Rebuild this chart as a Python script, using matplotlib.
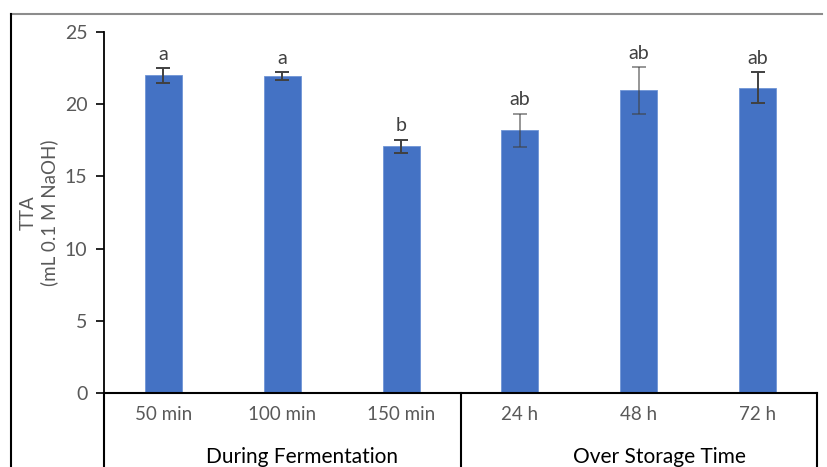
import numpy as np
import matplotlib
matplotlib.use("Agg")
import matplotlib.pyplot as plt
from matplotlib.lines import Line2D
import matplotlib.transforms as mtransforms

# data
categories = ["50 min", "100 min", "150 min", "24 h", "48 h", "72 h"]
groups = ["During Fermentation", "Over Storage Time"]
tta = [22.0, 21.95, 17.1, 18.2, 20.95, 21.15]
tta_err = [0.5, 0.25, 0.45, 1.15, 1.6, 1.05]
letters = ["a", "a", "b", "ab", "ab", "ab"]
err_alpha = [1, 1, 1, 0.55, 0.55, 1]

plt.rcParams['font.family'] = ['Lato', 'DejaVu Sans']

W, H, dpi = 827, 467, 100
fig = plt.figure(figsize=(W / dpi, H / dpi), dpi=dpi)

# outer chart border (partially visible)
fig.add_artist(Line2D([11 / W, 822 / W], [1 - 14 / H, 1 - 14 / H], transform=fig.transFigure,
                      color="#8c8c8c", lw=1.5))
fig.add_artist(Line2D([11 / W, 11 / W], [0, 1 - 14 / H], transform=fig.transFigure,
                      color="black", lw=1.5))

left, right, top, bottom = 104, 817, 32, 393
ax = fig.add_axes([left / W, 1 - bottom / H, (right - left) / W, (bottom - top) / H])

x = np.arange(len(categories))
ax.bar(x, tta, width=0.31, color="#4472C4", edgecolor="#6f95d6", linewidth=0.6, zorder=2)
for i in range(len(x)):
    ax.errorbar(x[i], tta[i], yerr=tta_err[i], fmt="none", ecolor="#404040",
                elinewidth=1.4, capsize=5, capthick=1.4, alpha=err_alpha[i], zorder=3)
    ax.annotate(letters[i], (x[i], tta[i] + tta_err[i]), xytext=(0, 4),
                textcoords="offset points", ha="center", va="bottom",
                fontsize=14, color="#404040")

ax.set_xlim(-0.5, len(categories) - 0.5)
ax.set_ylim(0, 25)
ax.set_yticks([0, 5, 10, 15, 20, 25])
ax.tick_params(axis="y", direction="out", length=6, width=1.2, colors="black",
               labelcolor="#595959", labelsize=14, pad=6)
ax.set_xticks([])
for s in ["top", "right"]:
    ax.spines[s].set_visible(False)
ax.spines["left"].set_linewidth(1.3)
ax.spines["bottom"].set_linewidth(1.5)

fig.text(39 / W, 1 - 213 / H, "TTA\n(mL 0.1 M NaOH)", rotation=90, ha="center",
         va="center", multialignment="center", fontsize=13.5, color="#595959",
         linespacing=1.25)

# two-level category axis
trans = mtransforms.blended_transform_factory(ax.transData, fig.transFigure)
for xs in [-0.5, 2.5, 5.5]:
    ax.add_artist(Line2D([xs, xs], [0, 1 - bottom / H], transform=trans,
                         color="black", lw=1.5, clip_on=False))
for i, c in enumerate(categories):
    ax.text(x[i], 1 - 415 / H, c, transform=trans, ha="center", va="center",
            fontsize=13.5, color="#595959")
for g, xc in zip(groups, [1.17, 4.17]):
    ax.text(xc, 1 - 457 / H, g, transform=trans, ha="center", va="center",
            fontsize=15, color="black")

fig.savefig("out.png", dpi=dpi)
